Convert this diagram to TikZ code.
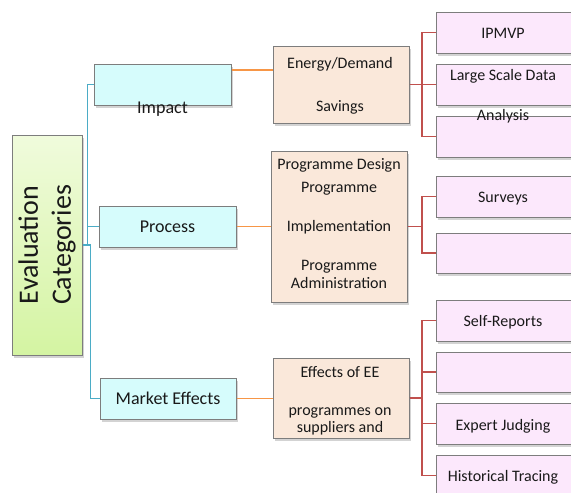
\documentclass[tikz,border=0pt]{standalone}
\usepackage{fontspec}
\setmainfont{Carlito}
\usetikzlibrary{shadows}
\definecolor{boxgray}{RGB}{125,125,125}
\definecolor{rootTop}{RGB}{240,251,220}
\definecolor{rootBot}{RGB}{212,244,162}
\definecolor{cyanfill}{RGB}{214,252,252}
\definecolor{peach}{RGB}{250,232,218}
\definecolor{pinkfill}{RGB}{252,232,252}
\definecolor{textcol}{RGB}{25,25,25}
\definecolor{blueline}{RGB}{75,172,198}
\definecolor{orangeline}{RGB}{247,150,70}
\definecolor{redline}{RGB}{192,80,77}
\begin{document}
\begin{tikzpicture}[x=1pt,y=-1pt,
  base/.style={draw=boxgray, line width=1pt, inner sep=0pt,
    drop shadow={opacity=0.35, shadow xshift=1.5pt, shadow yshift=-2.5pt}},
  rootbox/.style={base, top color=rootTop, bottom color=rootBot},
  lonebox/.style={base, fill=cyanfill, minimum width=137pt, minimum height=41pt},
  ltwobox/.style={base, fill=peach, minimum width=136pt},
  lthreebox/.style={base, fill=pinkfill, minimum width=136pt, minimum height=41pt},
  txt/.style={inner sep=0pt, text=textcol, text height=.62em, text depth=0pt, yshift=-2.5pt},
  tone/.style={txt, font=\fontsize{18}{21}\selectfont},
  ttwo/.style={txt, font=\fontsize{16}{19}\selectfont},
  bl/.style={draw=blueline, line width=1.7pt},
  ol/.style={draw=orangeline, line width=1.3pt},
  rl/.style={draw=redline, line width=1.8pt}]
\useasboundingbox (0,0) rectangle (571,493);
\clip (0,0) rectangle (571,493);

% root
\node[rootbox, minimum width=70pt, minimum height=220pt] (root) at (47,245) {};
\node[inner sep=0pt, text=textcol, rotate=90, align=center,
  font=\fontsize{28}{33}\selectfont] (roottxt) at (47,245) {Evaluation\\Categories};

% level 1
\node[lonebox] (impact) at (162.5,84.5) {};
\node[tone] (impacttxt) at (162.5,108) {Impact};
\node[lonebox] (process) at (167.5,226.5) {};
\node[tone] (processtxt) at (167.5,226.5) {Process};
\node[lonebox, minimum width=136pt] (market) at (168,398.5) {};
\node[tone] (markettxt) at (168,398.5) {Market Effects};

% level 2
\node[ltwobox, minimum height=77pt] (energy) at (341,84.5) {};
\node[ttwo] (e1) at (340,63) {Energy/Demand};
\node[ttwo] (e2) at (340,106) {Savings};

\node[ltwobox, minimum height=151pt] (prog) at (339,226.5) {};
\node[ttwo] (p1t) at (339,164) {Programme Design};
\node[ttwo] (p2t) at (339,187) {Programme};
\node[ttwo] (p3t) at (339,226) {Implementation};
\node[ttwo] (p4t) at (339,265) {Programme};
\node[ttwo] (p5t) at (339,283) {Administration};

\node[ltwobox, minimum height=80pt] (effects) at (341,398) {};
\node[ttwo] (f1t) at (340,372) {Effects of EE};
\node[ttwo] (f2t) at (340,410) {programmes on};
\node[ttwo] (f3t) at (340,427) {suppliers and};

% level 3
\node[lthreebox] (i1) at (504,32.5) {};
\node[ttwo] (i1t) at (503,33) {IPMVP};
\node[lthreebox] (i2) at (504,84.5) {};
\node[ttwo] (i2t) at (503,75) {Large Scale Data};
\node[lthreebox] (i3) at (504,136.5) {};
\node[ttwo] (i3t) at (503,115) {Analysis};

\node[lthreebox] (q1) at (504,196.5) {};
\node[ttwo] (q1t) at (503,197) {Surveys};
\node[lthreebox, minimum height=40pt] (q2) at (504,253) {};

\node[lthreebox] (m1) at (504,320.5) {};
\node[ttwo] (m1t) at (503,321) {Self-Reports};
\node[lthreebox, minimum height=40pt] (m2) at (504,372) {};
\node[lthreebox] (m3) at (504,423.5) {};
\node[ttwo] (m3t) at (503,425) {Expert Judging};
\node[lthreebox] (m4) at (504,475.5) {};
\node[ttwo] (m4t) at (503,476) {Historical Tracing};

% blue connectors
\draw[bl] (root.east) -- ++(5,0) |- (impact.west);
\draw[bl] (root.east) -- ++(5,0) |- (process.west);
\draw[bl] (root.east) -- ++(8,0) |- (market.west);

% orange connectors
\draw[ol] (impact.east |- 0,70) -- (energy.west |- 0,70);
\draw[ol] (process.east) -- (prog.west |- process.east);
\draw[ol] (market.east) -- (effects.west |- market.east);

% red connectors
\foreach \t in {i1,i2,i3} \draw[rl] (energy.east) -- (422,84.5) |- (\t.west);
\foreach \t in {q1,q2} \draw[rl] (prog.east) -- (422,226.5) |- (\t.west);
\foreach \t in {m1,m2,m3,m4} \draw[rl] (effects.east) -- (422,398) |- (\t.west);
\end{tikzpicture}
\end{document}
